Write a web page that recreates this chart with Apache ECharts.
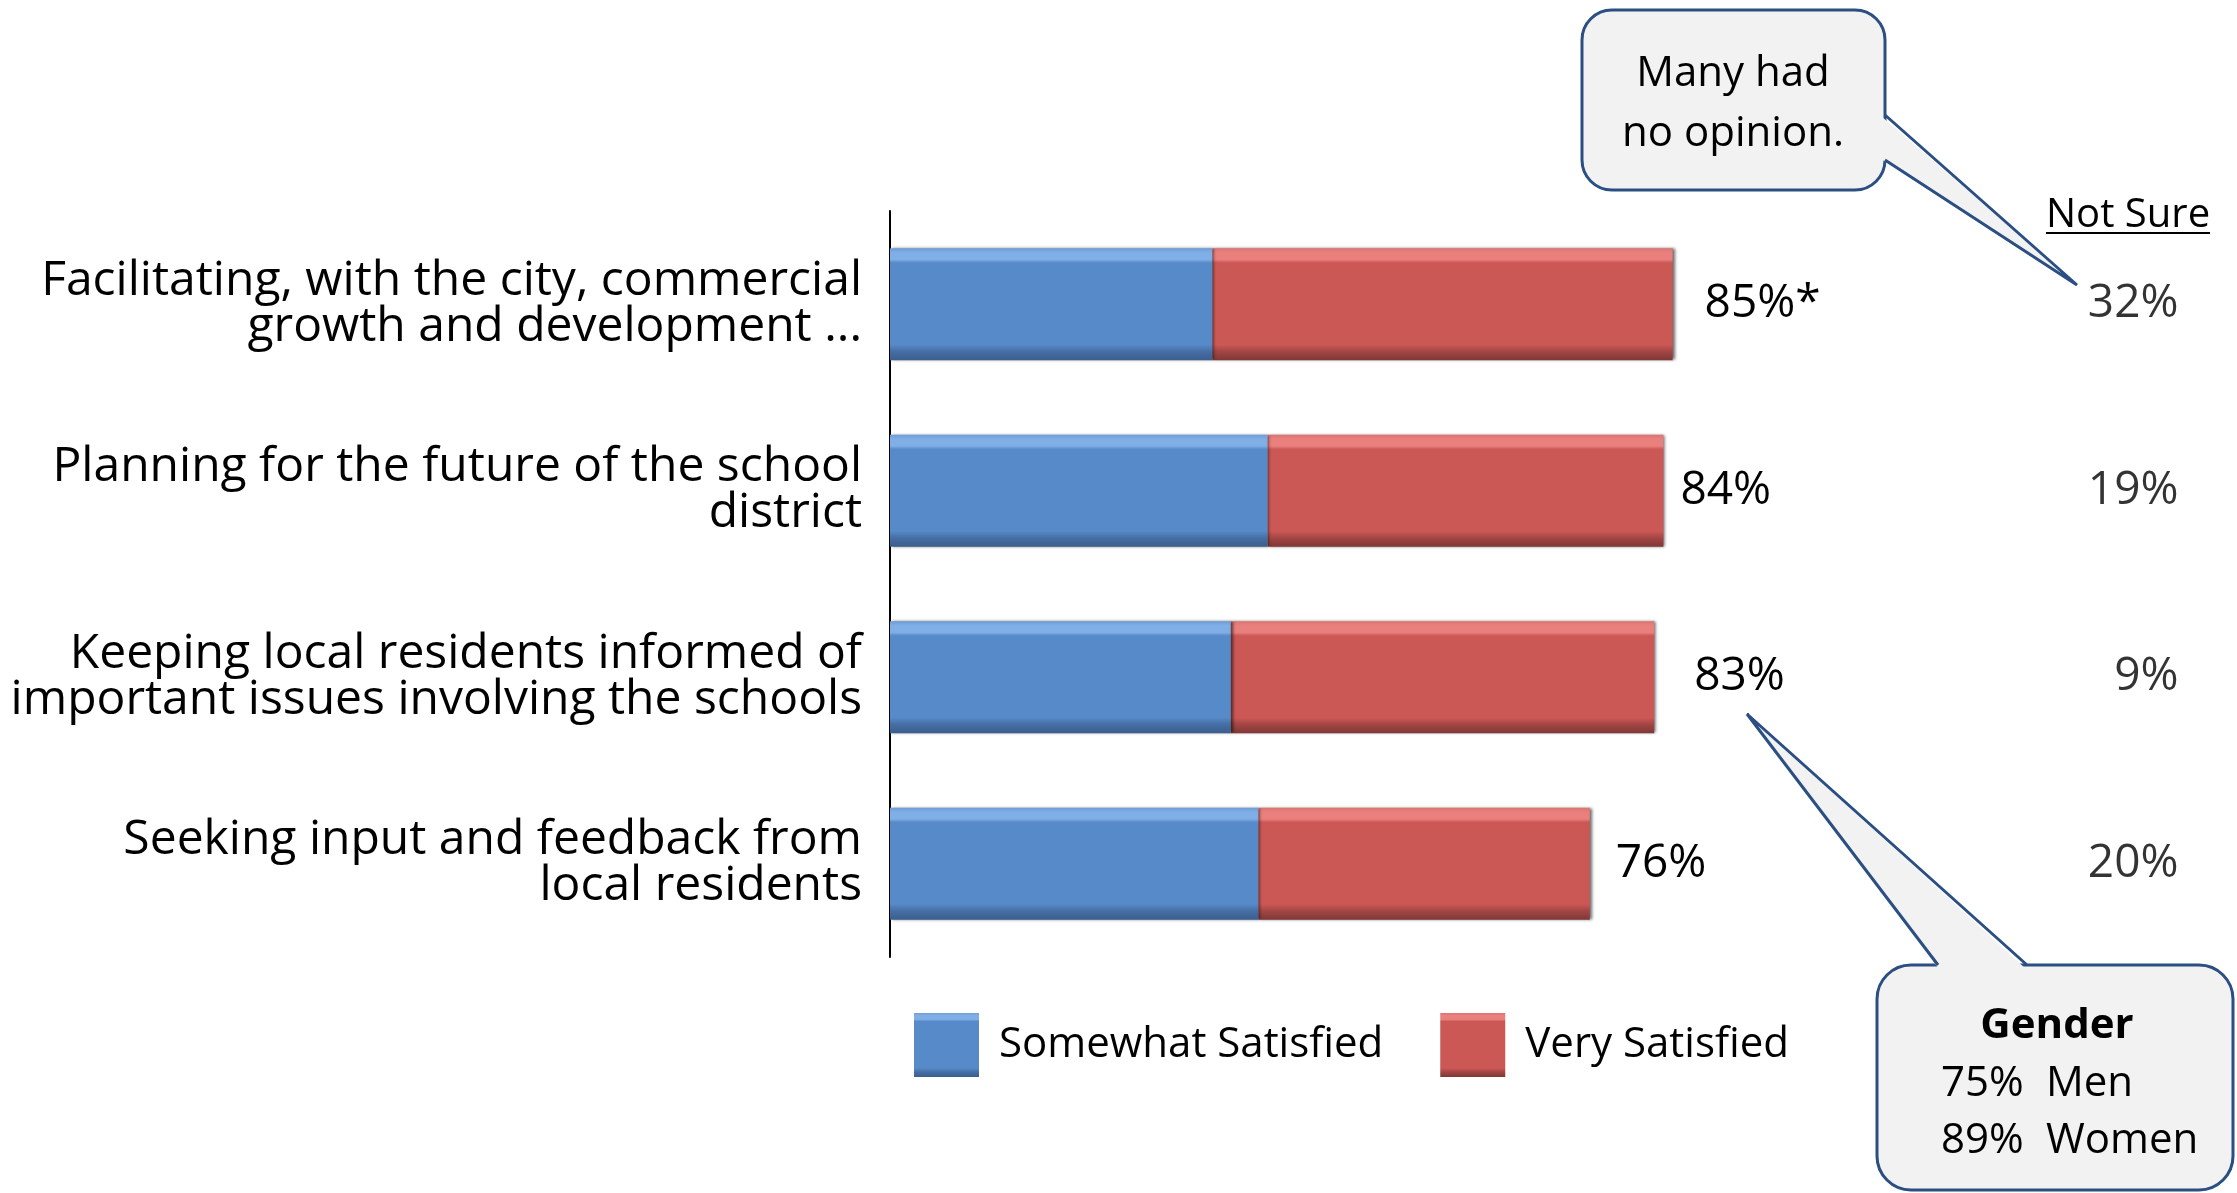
<!DOCTYPE html>
<html>
<head>
<meta charset="utf-8">
<script src="https://cdn.jsdelivr.net/npm/echarts@6/dist/echarts.min.js"></script>
<style>
html,body{margin:0;padding:0;background:#fff;}
#chart{width:2237px;height:1193px;}
</style>
</head>
<body>
<div id="chart"></div>
<script>
// ---- data ----
const categories = [
  'Facilitating, with the city, commercial\ngrowth and development ...',
  'Planning for the future of the school\ndistrict',
  'Keeping local residents informed of\nimportant issues involving the schools',
  'Seeking input and feedback from\nlocal residents'
];
const somewhatSatisfied = [35, 41, 37, 40];
const verySatisfied = [50, 43, 46, 36];
const totalLabels = ['85%*', '84%', '83%', '76%'];
const notSure = [32, 19, 9, 20];
const seriesNames = ['Somewhat Satisfied', 'Very Satisfied'];

// ---- styling ----
const FONT = '"Open Sans", "Noto Sans", sans-serif';
const totalLabelGap = [32, 17, 40, 26];
const X_MAX = 140;

function bevel(hi, top, base, dark, bottom) {
  return new echarts.graphic.LinearGradient(0, 0, 0, 1, [
    {offset: 0, color: top},
    {offset: 0.04, color: hi},
    {offset: 0.10, color: hi},
    {offset: 0.13, color: base},
    {offset: 0.86, color: base},
    {offset: 0.92, color: dark},
    {offset: 1, color: bottom}
  ]);
}
const blueFill = bevel('#80AEE6', '#6F9CD6', '#578AC8', '#466FA5', '#3A5E8E');
const redFill = bevel('#EA807E', '#DC7371', '#CC5856', '#A44644', '#7E3836');

const chart = echarts.init(document.getElementById('chart'), null, {renderer: 'canvas'});

const BORDER = '#2B4F82';
const CALLFILL = '#F2F2F2';

const option = {
  backgroundColor: '#ffffff',
  animation: false,
  textStyle: {fontFamily: FONT},
  grid: {left: 890, right: 2237 - 2179, top: 211, bottom: 1193 - 957, containLabel: false},
  xAxis: {type: 'value', min: 0, max: X_MAX, show: false},
  yAxis: {
    type: 'category',
    data: categories,
    inverse: true,
    axisLine: {show: true, lineStyle: {color: '#000', width: 2}},
    axisTick: {show: false},
    splitLine: {show: false},
    axisLabel: {
      color: '#000', fontFamily: FONT, fontSize: 48, lineHeight: 46,
      align: 'right', margin: 28
    }
  },
  legend: {
    left: 909, top: 1008,
    itemWidth: 65, itemHeight: 64, itemGap: 57,
    icon: 'rect',
    data: seriesNames,
    textStyle: {color: '#000', fontFamily: FONT, fontSize: 42, padding: [0, 0, 0, 15]}
  },
  series: [
    {
      name: seriesNames[0], type: 'bar', stack: 'sat', barWidth: 112, z: 3,
      data: somewhatSatisfied,
      itemStyle: {color: blueFill, shadowColor: 'rgba(0,0,0,0.6)', shadowBlur: 3, shadowOffsetX: 2}
    },
    {
      name: seriesNames[1], type: 'bar', stack: 'sat', barWidth: 112, z: 2,
      data: verySatisfied.map((v, i) => ({
        value: v,
        label: {distance: totalLabelGap[i]}
      })),
      itemStyle: {color: redFill, shadowColor: 'rgba(0,0,0,0.6)', shadowBlur: 3, shadowOffsetX: 2},
      label: {
        show: true, position: 'right', color: '#000', fontFamily: FONT, fontSize: 46,
        formatter: p => totalLabels[p.dataIndex]
      }
    },
    {
      name: 'Not Sure', type: 'scatter', symbolSize: 1,
      itemStyle: {color: 'rgba(0,0,0,0)'},
      data: notSure.map((v, i) => [X_MAX, i]),
      label: {
        show: true, position: 'left', distance: 0, color: '#000', fontFamily: FONT, fontSize: 46,
        formatter: p => notSure[p.dataIndex] + '%'
      },
      silent: true
    }
  ],
  graphic: [
    // Not Sure header
    {type: 'text', left: 2046, top: 196, z: 10,
      style: {text: 'Not Sure', fontFamily: FONT, fontSize: 40, fill: '#000'}},
    {type: 'line', z: 10, shape: {x1: 2046, y1: 233, x2: 2210, y2: 233},
      style: {stroke: '#000', lineWidth: 2}},
    // callout 1
    {type: 'rect', z: 20, shape: {x: 1582, y: 10, width: 303, height: 180, r: 30},
      style: {fill: CALLFILL, stroke: BORDER, lineWidth: 3}},
    {type: 'polygon', z: 21, shape: {points: [[1881, 116], [2077, 285], [1881, 159]]},
      style: {fill: CALLFILL}},
    {type: 'polyline', z: 22, shape: {points: [[1885, 115], [2077, 285], [1885, 160]]},
      style: {stroke: BORDER, lineWidth: 3, fill: null}},
    {type: 'text', z: 23, x: 1733, y: 104,
      style: {text: 'Many had\nno opinion.', fontFamily: FONT, fontSize: 42, lineHeight: 60,
        fill: '#000', align: 'center', verticalAlign: 'middle'}},
    // callout 2
    {type: 'rect', z: 20, shape: {x: 1877, y: 965, width: 356, height: 225, r: 34},
      style: {fill: CALLFILL, stroke: BORDER, lineWidth: 3}},
    {type: 'polygon', z: 21, shape: {points: [[1939, 969], [1747, 714], [2026, 969]]},
      style: {fill: CALLFILL}},
    {type: 'polyline', z: 22, shape: {points: [[1938, 965], [1747, 714], [2027, 965]]},
      style: {stroke: BORDER, lineWidth: 3, fill: null}},
    {type: 'text', z: 23, x: 2057, y: 1026,
      style: {text: 'Gender', fontFamily: FONT, fontSize: 42, fontWeight: 'bold',
        fill: '#000', align: 'center', verticalAlign: 'middle'}},
    {type: 'text', z: 23, x: 1941, y: 1084,
      style: {text: '75%', fontFamily: FONT, fontSize: 42, fill: '#000', align: 'left', verticalAlign: 'middle'}},
    {type: 'text', z: 23, x: 2046, y: 1084,
      style: {text: 'Men', fontFamily: FONT, fontSize: 42, fill: '#000', align: 'left', verticalAlign: 'middle'}},
    {type: 'text', z: 23, x: 1941, y: 1141,
      style: {text: '89%', fontFamily: FONT, fontSize: 42, fill: '#000', align: 'left', verticalAlign: 'middle'}},
    {type: 'text', z: 23, x: 2046, y: 1141,
      style: {text: 'Women', fontFamily: FONT, fontSize: 42, fill: '#000', align: 'left', verticalAlign: 'middle'}}
  ]
};
chart.setOption(option);
</script>
</body>
</html>
